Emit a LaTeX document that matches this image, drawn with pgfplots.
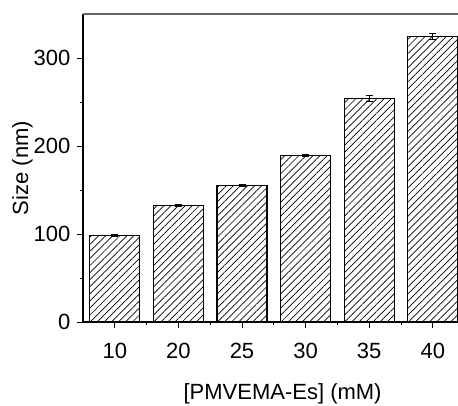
\documentclass[border=0pt]{standalone}
\usepackage{fontspec}
\setmainfont{Liberation Sans}
\usepackage{pgfplots}
\pgfplotsset{compat=1.18}
\usetikzlibrary{patterns.meta}

\begin{document}
\begin{tikzpicture}[font=\fontsize{11}{13.2}\selectfont]
\begin{axis}[
  scale only axis, width=190.8pt, height=154pt,
  xmin=-0.5, xmax=5.5, ymin=0, ymax=350,
  axis lines=left, axis line style={-, line width=0.6pt, black},
  xtick={0,...,5}, xticklabels={10,20,25,30,35,40},
  minor xtick={0.5,1.5,2.5,3.5,4.5},
  ytick={0,100,200,300}, minor ytick={50,150,250},
  tick align=outside, major tick length=2.75pt, minor tick length=1.6pt,
  tick style={line width=0.5pt, black},
  /pgf/number format/assume math mode=true,
  xticklabel style={yshift=-4.5pt},
  xlabel={[PMVEMA-Es] (mM)}, ylabel={Size (nm)},
  xlabel style={at={(axis description cs:0.523,-0.232)}, anchor=center},
  ylabel style={at={(axis description cs:-0.1585,0.5)}, anchor=center},
  ybar, bar width=25pt,
  clip=false,
]
\addplot[draw=black, line width=0.6pt, fill=white,
  postaction={pattern={Lines[angle=45,distance=2.5pt,line width=0.35pt]}, pattern color=black},
  error bars/.cd, y dir=both, y explicit,
  error bar style={line width=0.5pt, black},
  error mark options={rotate=90, mark size=1.75pt, line width=0.5pt, black}]
  coordinates {
    (0,98) +- (0,1)
    (1,132) +- (0,1)
    (2,155) +- (0,1.2)
    (3,189) +- (0,1.5)
    (4,254) +- (0,3)
    (5,324) +- (0,3.4)
  };
\draw[line width=0.8pt, black!60] (axis description cs:0,1) -- (axis description cs:1,1);
\end{axis}
\pgfresetboundingbox
\path[use as bounding box] ([shift={(-41.5pt,-41.5pt)}]current axis.south west) rectangle ([shift={(187.5pt,161pt)}]current axis.south west);
\end{tikzpicture}
\end{document}
